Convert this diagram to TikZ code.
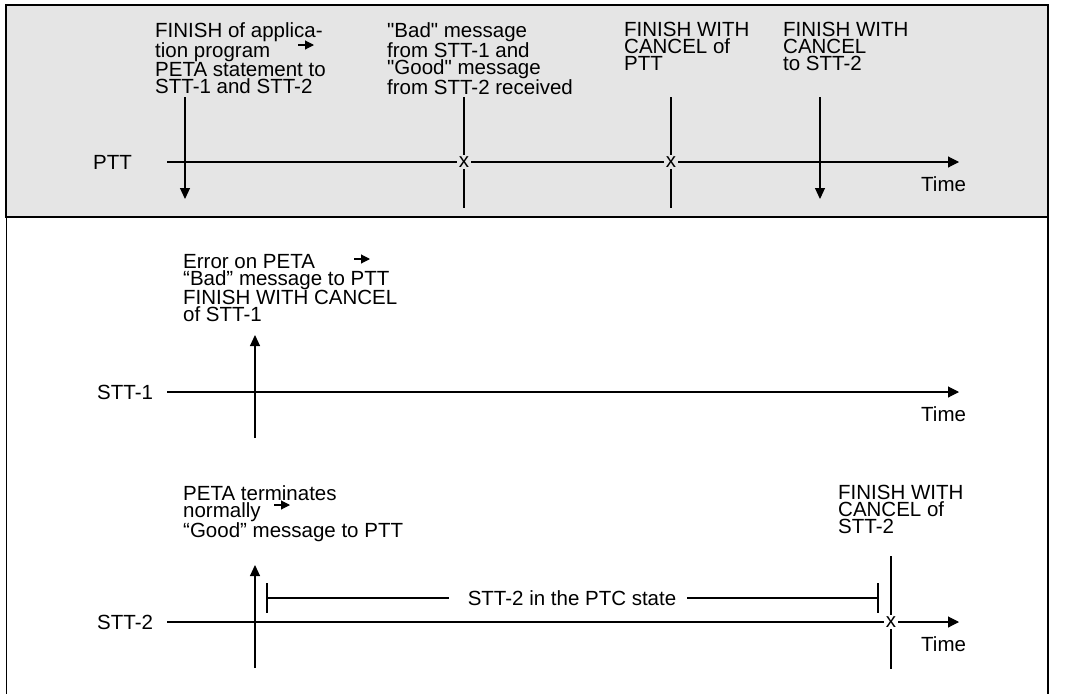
\documentclass[tikz,border=0pt]{standalone}
\usepackage{fontspec}
\setmainfont{Liberation Sans}
\usetikzlibrary{arrows.meta}
\definecolor{boxgray}{RGB}{229,229,229}
\begin{document}
\begin{tikzpicture}[x=1pt,y=-1pt,
  every node/.style={font=\fontsize{20.5}{17}\selectfont, inner sep=0pt},
  txt/.style={anchor=north west, align=left},
  lbl/.style={anchor=west},
  ln/.style={line width=1.1pt},
  axisarrow/.style={ln, -{Triangle[length=11pt,width=11pt]}},
  evarrow/.style={ln, -{Triangle[length=11pt,width=10pt]}},
  smallarrow/.style={line width=1.1pt, -{Triangle[length=9pt,width=9pt]}},
  xmark/.style={inner sep=1.8pt, fill=#1},
]
\useasboundingbox (0,0) rectangle (1069,694);
% frame
\draw[ln, fill=boxgray] (6,5) rectangle (1048,217);
\draw[ln] (6.5,217) -- (6.5,694);
\draw[ln] (1048,217) -- (1048,694);

% ---------------- PTT ----------------
\node[lbl] (ptt) at (93,162) {PTT};
\coordinate (ptta) at (167,162);
\coordinate (pttb) at (959,162);
\node[xmark=boxgray] (x1) at (464,162) {x};
\node[xmark=boxgray] (x2) at (671,162) {x};
\draw[ln] (ptta) -- (x1);
\draw[ln] (x1) -- (x2);
\draw[axisarrow] (x2) -- (pttb);
\node[lbl] (time1) at (921,184) {Time};

\node[txt] (t1) at (155,22) {FINISH of applica-\\tion program\\PETA statement to\\STT-1 and STT-2};
\coordinate (a1s) at (298,45);
\coordinate (a1e) at (314,45);
\draw[smallarrow] (a1s) -- (a1e);
\coordinate (e1t) at (185,97);
\coordinate (e1b) at (185,199);
\draw[evarrow] (e1t) -- (e1b);

\node[txt] (t2) at (387,22) {\textquotedbl Bad\textquotedbl\ message\\from STT-1 and\\\textquotedbl Good\textquotedbl\ message\\from STT-2 received};
\coordinate (e2t) at (464,97);
\coordinate (e2b) at (464,208);
\draw[ln] (e2t) -- (x1);
\draw[ln] (x1) -- (e2b);

\node[txt] (t3) at (624,22) {FINISH WITH\\CANCEL of\\PTT};
\coordinate (e3t) at (671,97);
\coordinate (e3b) at (671,208);
\draw[ln] (e3t) -- (x2);
\draw[ln] (x2) -- (e3b);

\node[txt] (t4) at (783,22) {FINISH WITH\\CANCEL\\to STT-2};
\coordinate (e4t) at (820,97);
\coordinate (e4b) at (820,199);
\draw[evarrow] (e4t) -- (e4b);

% ---------------- STT-1 ----------------
\node[lbl] (stt1) at (97,392) {STT-1};
\coordinate (s1a) at (167,392);
\coordinate (s1b) at (959,392);
\draw[axisarrow] (s1a) -- (s1b);
\node[lbl] (time2) at (921,414) {Time};
\node[txt] (t5) at (183,254) {Error on PETA\\“Bad” message to PTT\\FINISH WITH CANCEL\\of STT-1};
\coordinate (a2s) at (354,259);
\coordinate (a2e) at (370,259);
\draw[smallarrow] (a2s) -- (a2e);
\coordinate (e5b) at (255,438);
\coordinate (e5t) at (255,335);
\draw[evarrow] (e5b) -- (e5t);

% ---------------- STT-2 ----------------
\node[lbl] (stt2) at (97,622) {STT-2};
\coordinate (s2a) at (167,622);
\coordinate (s2b) at (959,622);
\node[xmark=white] (x3) at (891,622) {x};
\draw[ln] (s2a) -- (x3);
\draw[axisarrow] (x3) -- (s2b);
\node[lbl] (time3) at (921,644) {Time};
\coordinate (e7t) at (891,556);
\coordinate (e7b) at (891,669);
\draw[ln] (e7t) -- (x3);
\draw[ln] (x3) -- (e7b);

\node[txt] (t6) at (183,485) {PETA terminates\\normally\\“Good” message to PTT};
\coordinate (a3s) at (274,505);
\coordinate (a3e) at (290,505);
\draw[smallarrow] (a3s) -- (a3e);
\coordinate (e6b) at (255,668);
\coordinate (e6t) at (255,565);
\draw[evarrow] (e6b) -- (e6t);

\node[txt] (t7) at (838,485) {FINISH WITH\\CANCEL of\\STT-2};

% PTC state bracket
\node (ptc) at (572,598) {STT-2 in the PTC state};
\coordinate (bl) at (267,598);
\coordinate (br) at (878,598);
\draw[ln] (267,583) -- (267,613);
\draw[ln] (878,583) -- (878,613);
\draw[ln] (bl) -- ([xshift=-19pt]ptc.west);
\draw[ln] ([xshift=11pt]ptc.east) -- (br);
\end{tikzpicture}
\end{document}
